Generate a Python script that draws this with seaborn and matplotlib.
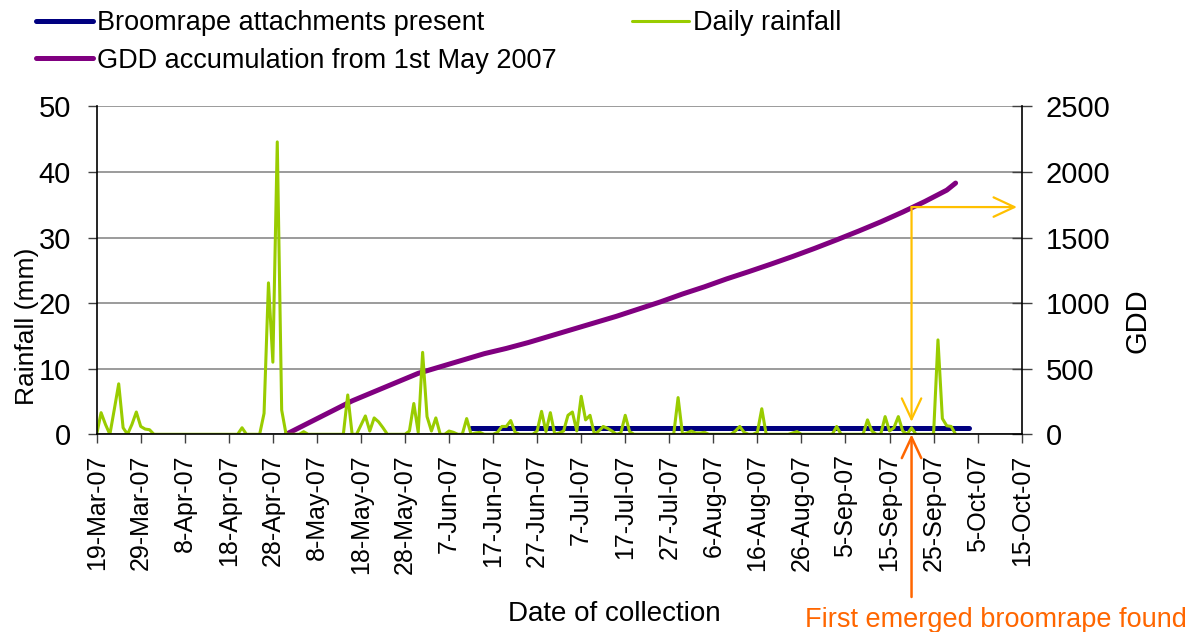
import pandas as pd
import numpy as np
import matplotlib
matplotlib.use("Agg")
import matplotlib.pyplot as plt
import matplotlib.dates as mdates
import matplotlib.transforms as mtransforms
import seaborn as sns

# Daily rainfall (mm) from 19-Mar-2007, one value per day
rain_start = "2007-03-19"
rain_mm = [
    0, 3.3, 1.5, 0, 3.8, 7.7, 1.0, 0, 1.5, 3.4,
    1.2, 0.8, 0.7, 0, 0, 0, 0, 0, 0, 0,
    0, 0, 0, 0, 0, 0, 0, 0, 0, 0,
    0, 0, 0, 1.0, 0, 0, 0, 0, 3.2, 23.1,
    11.0, 44.6, 3.7, 0, 0, 0, 0, 0.4, 0, 0,
    0, 0, 0, 0, 0, 0, 0, 6.0, 0, 0,
    1.4, 2.8, 0.5, 2.5, 1.9, 1.0, 0, 0, 0, 0,
    0, 0.5, 4.7, 0.3, 12.5, 2.7, 0.5, 2.5, 0, 0,
    0.5, 0.3, 0, 0, 2.4, 0, 0.2, 0.3, 0, 0,
    0, 0.3, 1.2, 1.2, 2.1, 0.3, 0, 0, 0, 0,
    0.5, 3.5, 0.4, 3.3, 0, 0.2, 0.5, 2.9, 3.4, 0.5,
    5.8, 2.2, 2.9, 0, 0.5, 1.2, 0.9, 0.5, 0, 0.2,
    2.9, 0.4, 0, 0, 0, 0, 0, 0, 0, 0,
    0, 0, 5.6, 0, 0.2, 0.5, 0.2, 0.2, 0.3, 0,
    0, 0, 0, 0, 0, 0.5, 1.2, 0.3, 0, 0,
    0.3, 3.9, 0, 0, 0, 0, 0, 0, 0.2, 0.4,
    0, 0, 0, 0, 0, 0, 0, 0, 1.2, 0,
    0, 0, 0, 0, 0, 2.2, 0.5, 0, 0, 2.7,
    0.5, 1.0, 2.7, 0.5, 0, 1.0, 0, 0, 0, 0,
    0, 14.4, 2.4, 1.3, 1.2, 0,
]

# GDD accumulation from 1st May 2007 (days after 1 May, GDD)
gdd_start = "2007-05-01"
gdd_days = [0, 5, 10, 15, 20, 25, 30, 35, 40, 45, 50, 55, 60, 65, 70, 75,
            80, 85, 90, 95, 100, 105, 110, 115, 120, 125, 130, 135, 140,
            145, 150, 152]
gdd_values = [0, 85, 170, 255, 325, 395, 465, 515, 565, 615, 655, 700, 750,
              800, 850, 900, 955, 1010, 1070, 1125, 1185, 1240, 1297, 1356,
              1418, 1483, 1550, 1620, 1695, 1775, 1862, 1916]

# Broomrape attachments present (flat marker line on rainfall axis)
broom_dates = ["2007-06-12", "2007-10-03"]
broom_level = [1, 1]

tick_dates = pd.date_range("2007-03-19", "2007-10-15", freq="10D")
emerged_date = "2007-09-20"
emerged_gdd = 1733

rain = pd.DataFrame({"date": pd.date_range(rain_start, periods=len(rain_mm)),
                     "mm": rain_mm})
gdd = pd.DataFrame({"date": pd.Timestamp(gdd_start) + pd.to_timedelta(gdd_days, unit="D"),
                    "gdd": gdd_values})
broom = pd.DataFrame({"date": pd.to_datetime(broom_dates), "level": broom_level})

sns.set_style("white")
plt.rcParams["font.family"] = ["Liberation Sans", "DejaVu Sans"]
plt.rcParams["text.color"] = "black"
plt.rcParams["axes.labelcolor"] = "black"
plt.rcParams["xtick.color"] = "black"
plt.rcParams["ytick.color"] = "black"

fig = plt.figure(figsize=(11.98, 6.32), dpi=100)
ax = fig.add_axes([0.0807, 0.3128, 0.7721, 0.5187])
ax2 = ax.twinx()

# GDD on the right axis, drawn underneath the rainfall axis
sns.lineplot(data=gdd, x="date", y="gdd", ax=ax2, color="#800080", lw=3.6,
             solid_capstyle="round", legend=False)
sns.lineplot(data=broom, x="date", y="level", ax=ax, color="#000080", lw=3.6,
             solid_capstyle="round", legend=False)
sns.lineplot(data=rain, x="date", y="mm", ax=ax, color="#99CC00", lw=2.2,
             legend=False)

ax.set_zorder(ax2.get_zorder() + 1)
ax.patch.set_visible(False)

ax.set_xlim(tick_dates[0], tick_dates[-1])
ax.set_ylim(0, 50)
ax2.set_ylim(0, 2500)
ax.set_yticks(range(0, 51, 10))
ax2.set_yticks(range(0, 2501, 500))
ax2.grid(axis="y", color="#808080", lw=1.1)
ax2.set_axisbelow(True)

ax.set_xticks(tick_dates)
ax.set_xticklabels([f"{d.day}-{d:%b-%y}" for d in tick_dates], rotation=90,
                   ha="center", va="top")

for a in (ax, ax2):
    a.spines["top"].set_visible(False)
    for s in ("left", "right", "bottom"):
        a.spines[s].set_color("black")
        a.spines[s].set_linewidth(1.2)
ax.spines["right"].set_visible(False)
ax2.spines["left"].set_visible(False)
ax2.spines["bottom"].set_visible(False)

ax.tick_params(axis="x", direction="out", length=6.5, width=1, color="#404040",
               labelcolor="black", labelsize=18, pad=8, bottom=True)
ax.tick_params(axis="y", direction="out", length=6.5, width=1, color="#404040",
               labelcolor="black", labelsize=21, pad=12, left=True)
ax2.tick_params(axis="y", direction="inout", length=14, width=1, color="#404040",
                labelcolor="black", labelsize=21, pad=10.5, right=True)

ax.set_xlabel("Date of collection", fontsize=20, color="black")
ax.xaxis.set_label_coords(0.56, -0.51)
ax.set_ylabel("Rainfall (mm)", fontsize=19, color="black")
ax.yaxis.set_label_coords(-0.0625, 0.33)
ax2.set_ylabel("GDD", fontsize=21, rotation=90, color="black")
ax2.yaxis.set_label_coords(1.11, 0.348)

# arrows marking first emergence
ex = mdates.date2num(pd.Timestamp(emerged_date))
mix = mtransforms.blended_transform_factory(ax.transData, ax2.transData)
mix_right = mtransforms.blended_transform_factory(ax.transAxes, ax2.transData)
mix_fig = mtransforms.blended_transform_factory(ax.transData, fig.transFigure)
yellow = dict(arrowstyle="->,head_length=0.75,head_width=0.35", color="#FFC000",
              lw=1.6, mutation_scale=20, shrinkA=0, shrinkB=0)
ax.annotate("", xy=(ex, 1.9), xycoords="data", xytext=(ex, emerged_gdd),
            textcoords=mix, arrowprops=yellow)
ax.annotate("", xy=(0.995, emerged_gdd), xycoords=mix_right,
            xytext=(ex, emerged_gdd), textcoords=mix, arrowprops=yellow)
orange = dict(arrowstyle="->,head_length=0.75,head_width=0.35", color="#FF6600",
              lw=1.8, mutation_scale=20, shrinkA=0, shrinkB=0)
ax.annotate("", xy=(ex, 0), xycoords="data", xytext=(ex, 35 / 632),
            textcoords=mix_fig, arrowprops=orange, annotation_clip=False)
fig.text(0.831, 0.019, "First emerged broomrape found", color="#FF6600",
         fontsize=19.5, ha="center", va="center")

handles = [ax.lines[0], ax2.lines[0], ax.lines[1]]
labels = ["Broomrape attachments present", "GDD accumulation from 1st May 2007",
          "Daily rainfall"]
fig.legend(handles, labels, loc="upper left", bbox_to_anchor=(0.030, 0.984),
           ncol=2, frameon=False, fontsize=19.5, handlelength=2.1,
           handletextpad=0.15, columnspacing=2.8, labelspacing=0.43,
           borderpad=0, borderaxespad=0, labelcolor="black")

fig.savefig("out.png", dpi=100)
